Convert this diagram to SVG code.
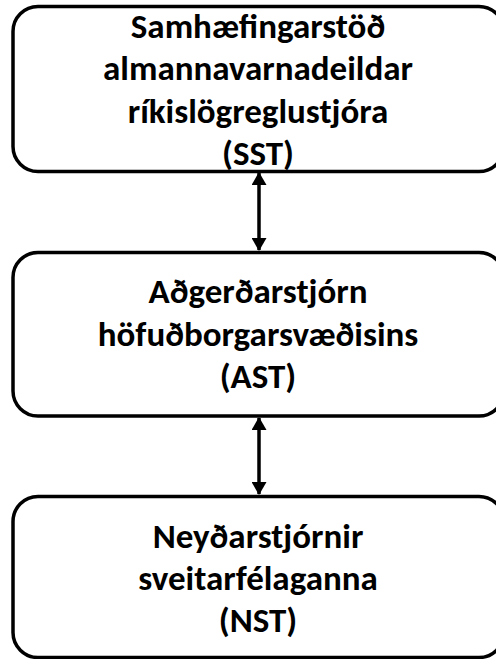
<svg xmlns="http://www.w3.org/2000/svg" width="496" height="659" viewBox="0 0 496 659">
<defs>
<style>
.box{fill:#fff;stroke:#000;stroke-width:3.5}
.t{font-family:Carlito,Lato,"Open Sans",sans-serif;font-weight:bold;font-size:35px;fill:#000;text-anchor:middle}
.c{stroke:#000;stroke-width:3.5;fill:none;marker-start:url(#ah);marker-end:url(#ah)}
</style>
<marker id="ah" viewBox="0 0 13 15" refX="12" refY="7.5" markerWidth="13" markerHeight="15" markerUnits="userSpaceOnUse" orient="auto-start-reverse">
<path d="M0,0 L13,7.5 L0,15 Z" fill="#000"/>
</marker>
</defs>
<rect width="496" height="659" fill="#fff"/>
<g id="connectors">
<line class="c" x1="259" y1="173" x2="259" y2="250"/>
<line class="c" x1="259" y1="418" x2="259" y2="494"/>
</g>
<g id="sst">
<rect class="box" x="13" y="6.5" width="491" height="165" rx="25" ry="25"/>
<text class="t" x="258" y="37.5">Samhæfingarstöð</text>
<text class="t" x="258" y="80">almannavarnadeildar</text>
<text class="t" x="258" y="122.5">ríkislögreglustjóra</text>
<text class="t" x="258" y="165">(SST)</text>
</g>
<g id="ast">
<rect class="box" x="13" y="252.5" width="491" height="163.5" rx="25" ry="25"/>
<text class="t" x="258" y="303">Aðgerðarstjórn</text>
<text class="t" x="258" y="346">höfuðborgarsvæðisins</text>
<text class="t" x="258" y="388">(AST)</text>
</g>
<g id="nst">
<rect class="box" x="13" y="496.5" width="491" height="161" rx="25" ry="25"/>
<text class="t" x="258" y="548">Neyðarstjórnir</text>
<text class="t" x="258" y="590">sveitarfélaganna</text>
<text class="t" x="258" y="632">(NST)</text>
</g>
</svg>
